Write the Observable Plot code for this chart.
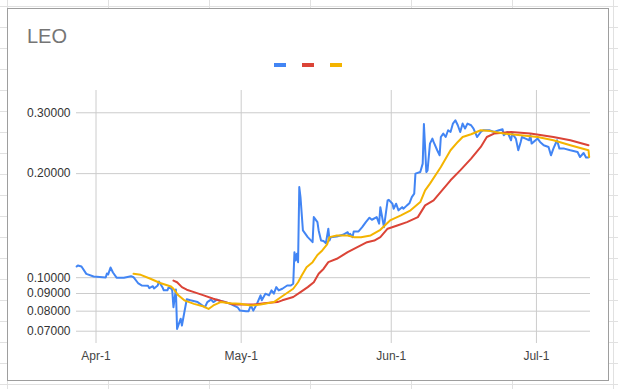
<!DOCTYPE html>
<html><head><meta charset="utf-8">
<script src="https://cdn.jsdelivr.net/npm/d3@7"></script>
<script src="https://cdn.jsdelivr.net/npm/@observablehq/plot@0.6"></script>
<style>
html,body{margin:0;padding:0;}
body{width:618px;height:389px;position:relative;overflow:hidden;background-color:#fff;
background-image:linear-gradient(to right,#e1e1e1 1px,transparent 1px),linear-gradient(to bottom,#e1e1e1 1px,transparent 1px);
background-size:101px 21px;background-position:7px 6px;}
#box{position:absolute;left:7px;top:8px;width:602px;height:373px;box-sizing:border-box;background:#fff;border:1px solid #9e9e9e;}
#title{position:absolute;left:27px;top:26px;font:20px "Liberation Sans",Arial,sans-serif;line-height:20px;color:#757575;}
.sw{position:absolute;top:63px;width:12px;height:4px;}
#chart{position:absolute;left:0;top:80px;}
</style></head>
<body>
<div id="box"></div>
<div id="title">LEO</div>
<div class="sw" style="left:274px;background:#4285f4"></div>
<div class="sw" style="left:302px;background:#db4437"></div>
<div class="sw" style="left:330px;background:#f4b400"></div>
<div id="chart"></div>
<script>
// days after 2021-04-01 (UTC)
const priceDay = [
-4,-3.75,-3,-2,-0.5,2,2.25,2.5,3,3.5,
4.25,5.75,7.25,7.75,8.75,9.5,10.75,11,11.75,12,
12.75,13,13.75,14,14.75,15,15.5,15.75,16,16.5,
16.75,17.5,17.75,18.75,19.5,21,22,22.5,23,23.75,
24.25,25,25.75,26.75,27.75,29.25,29.75,31,31.5,32,
32.5,33.25,34,34.25,35,35.75,36.25,36.75,37.25,37.75,
38.5,39.5,40.25,40.75,41,41.25,41.5,41.75,42,42.25,
42.75,43.75,44.75,45,45.75,46,46.5,47,47.5,48,
48.25,48.5,49.75,51,52,52.25,52.5,53,53.25,54.25,
55,55.75,56.5,57,58,58.5,58.75,59.25,59.5,60.25,
60.5,61.25,61.5,62,62.5,63.25,63.5,64.25,64.75,65.25,
65.75,66,67,67.5,67.75,68.25,68.5,69,69.5,69.75,
70.5,71,71.25,71.75,72.25,72.75,73.25,73.75,74.25,74.75,
75.25,75.75,76.25,76.75,77.5,78,78.75,79.5,80,81.25,
82.25,83.25,84,84.25,85,85.75,86,86.75,87.25,87.75,
88,88.75,89.5,89.75,90,91.25,91.75,92.5,93.5,94,
94.5,95.25,95.75,96.75,98,99.5,100,100.75,101.25,101.75];
const priceValue = [
0.1077,0.1085,0.1077,0.1026,0.1008,0.1001,0.1028,0.1021,0.1070,0.1035,
0.1000,0.1000,0.1010,0.1003,0.0962,0.0949,0.0947,0.0933,0.0945,0.0931,
0.0949,0.0975,0.0937,0.0919,0.0919,0.0937,0.0931,0.0919,0.0821,0.0925,
0.0711,0.0761,0.0727,0.0866,0.0860,0.0850,0.0831,0.0821,0.0850,0.0864,
0.0850,0.0864,0.0856,0.0850,0.0840,0.0821,0.0803,0.0799,0.0799,0.0831,
0.0803,0.0840,0.0889,0.0860,0.0899,0.0889,0.0919,0.0899,0.0939,0.0919,
0.0929,0.0949,0.0949,0.0960,0.1185,0.1121,0.1173,0.1109,0.1829,0.1711,
0.1370,0.1310,0.1267,0.1497,0.1448,0.1370,0.1281,0.1276,0.1259,0.1386,
0.1281,0.1310,0.1316,0.1331,0.1354,0.1325,0.1340,0.1310,0.1361,0.1361,
0.1400,0.1448,0.1491,0.1471,0.1497,0.1433,0.1600,0.1464,0.1400,0.1674,
0.1680,0.1637,0.1583,0.1637,0.1566,0.1600,0.1583,0.1619,0.1641,0.1711,
0.1750,0.2000,0.2021,0.2138,0.2784,0.2021,0.2044,0.2443,0.2526,0.2470,
0.2337,0.2260,0.2553,0.2612,0.2553,0.2670,0.2640,0.2792,0.2854,0.2761,
0.2640,0.2792,0.2701,0.2792,0.2761,0.2701,0.2553,0.2640,0.2670,0.2670,
0.2640,0.2670,0.2687,0.2582,0.2640,0.2498,0.2612,0.2526,0.2337,0.2470,
0.2553,0.2526,0.2498,0.2582,0.2443,0.2526,0.2470,0.2416,0.2389,0.2260,
0.2363,0.2498,0.2363,0.2363,0.2337,0.2310,0.2234,0.2295,0.2227,0.2227];

const maLongDay = [16,16.75,17.75,18.75,20.25,22.25,24.25,26.5,28.5,30.5,
32.5,34.75,37.5,38.5,40.75,42.25,43.75,45,46,47,
48,49.75,52,54,56,57.5,58.75,60.25,62.25,64.25,
66.5,68,69.75,71.5,73.25,75.25,77.5,79.5,80.75,82.25,
83.5,85.75,89.75,94.5,98,101.75];
const maLongValue = [0.0981,0.0970,0.0939,0.0923,0.0908,0.0889,0.0869,0.0850,0.0836,0.0836,
0.0836,0.0844,0.0850,0.0860,0.0879,0.0908,0.0939,0.0970,0.1026,0.1060,
0.1109,0.1134,0.1185,0.1225,0.1267,0.1281,0.1310,0.1386,0.1416,0.1448,
0.1497,0.1619,0.1674,0.1789,0.1913,0.2044,0.2211,0.2389,0.2553,0.2612,
0.2622,0.2640,0.2612,0.2553,0.2498,0.2416];

const maShortDay = [7.75,9.25,11.25,13.25,15.5,16,17,18.25,20.25,22.25,
23.25,24.25,25.75,27.75,29.75,32,34,36.75,38.25,40.75,
41.75,42.5,43.5,44.75,45.75,46.75,47.75,48.25,49.75,52,
53.25,54.75,56.75,58.75,60.75,63,65,67,68,69,
71.25,73.25,74.75,75.75,77.5,79.5,81.5,84.25,87.75,91.25,
94.5,98,101.75,101.9];
const maShortValue = [0.1026,0.1019,0.0993,0.0965,0.0943,0.0929,0.0889,0.0860,0.0840,0.0825,
0.0812,0.0831,0.0850,0.0844,0.0840,0.0831,0.0836,0.0850,0.0879,0.0929,
0.0970,0.1015,0.1072,0.1109,0.1163,0.1199,0.1248,0.1310,0.1325,0.1325,
0.1310,0.1310,0.1325,0.1376,0.1464,0.1514,0.1566,0.1655,0.1789,0.1871,
0.2090,0.2337,0.2470,0.2553,0.2600,0.2670,0.2655,0.2612,0.2582,0.2553,
0.2498,0.2416,0.2337,0.2234];

const xTickLabels = ["2021-04-01","2021-05-01","2021-06-01","2021-07-01"];
const yTicks = [0.07,0.08,0.09,0.1,0.2,0.3];
const seriesColors = ["#4285f4","#db4437","#f4b400"];

const base = Date.UTC(2021,3,1);
const toDate = d => new Date(base + d*864e5);
const rows = (days, vals) => days.map((d,i)=>({date: toDate(d), value: vals[i]}));
const price = rows(priceDay, priceValue);
const maLong = rows(maLongDay, maLongValue);
const maShort = rows(maShortDay, maShortValue);
const xTicks = xTickLabels.map(s => new Date(s));

const chart = Plot.plot({
  width: 618, height: 309,
  marginLeft: 76, marginRight: 28, marginTop: 10, marginBottom: 46,
  style: {fontFamily: '"Liberation Sans", Arial, sans-serif', fontSize: "12px", color: "#333", background: "transparent", overflow: "visible"},
  x: {type: "utc", domain: [toDate(-4.03), toDate(102.17)]},
  y: {type: "log", domain: [0.0645, 0.348]},
  marks: [
    Plot.gridX(xTicks, {stroke: "#cccccc", strokeOpacity: 1}),
    Plot.gridY(yTicks, {stroke: "#cccccc", strokeOpacity: 1}),
    Plot.axisX(xTicks, {tickSize: 0, tickPadding: 8, tickFormat: d3.utcFormat("%b-%-d"), label: null, fill: "#444"}),
    Plot.axisY(yTicks, {tickSize: 0, tickPadding: 6, tickFormat: d3.format(".5f"), label: null, fill: "#333"}),
    Plot.line(price, {x: "date", y: "value", stroke: seriesColors[0], strokeWidth: 2}),
    Plot.line(maLong, {x: "date", y: "value", stroke: seriesColors[1], strokeWidth: 2}),
    Plot.line(maShort, {x: "date", y: "value", stroke: seriesColors[2], strokeWidth: 2})
  ]
});
document.getElementById("chart").appendChild(chart);
</script>
</body></html>
